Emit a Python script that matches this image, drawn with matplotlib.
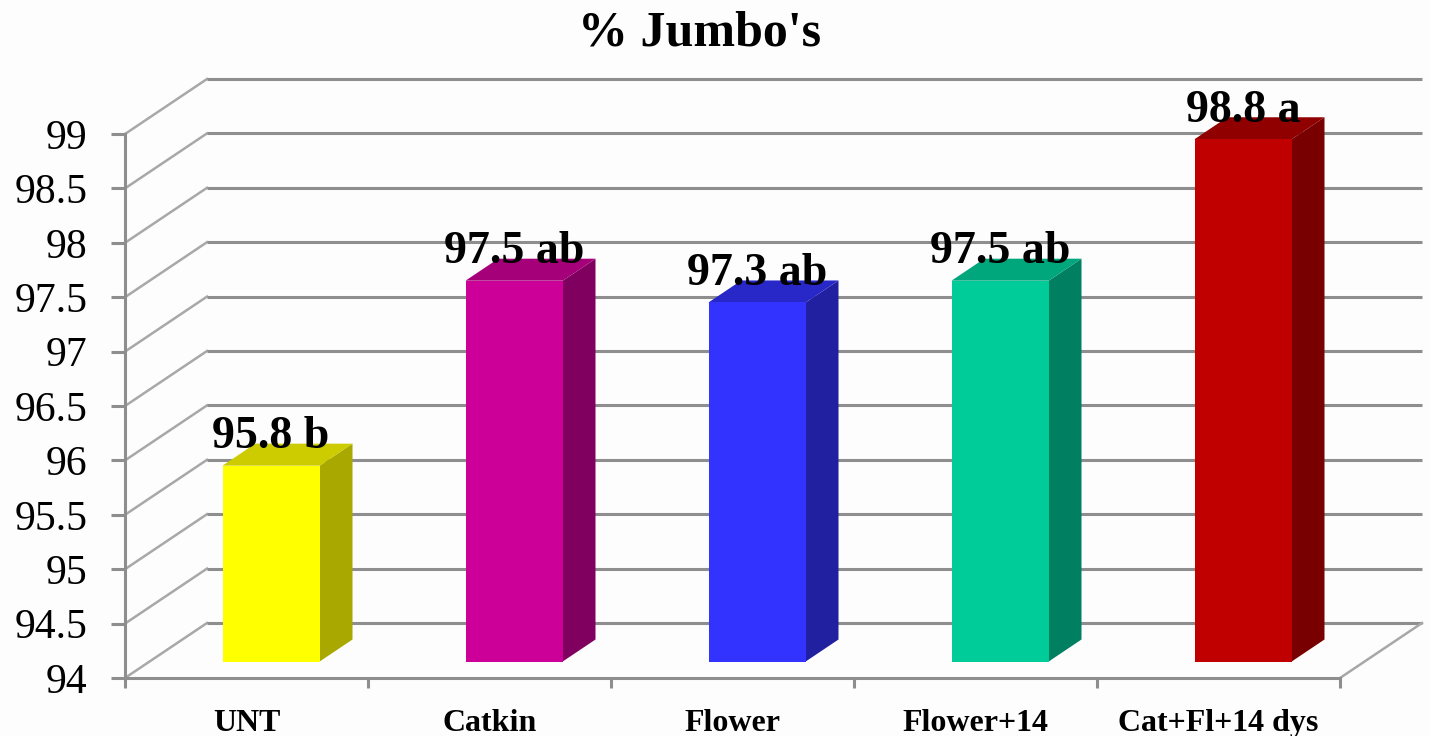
import matplotlib
matplotlib.use("Agg")
import matplotlib.pyplot as plt
import numpy as np

categories = ["UNT", "Catkin", "Flower", "Flower+14", "Cat+Fl+14 dys"]
values = [95.8, 97.5, 97.3, 97.5, 98.8]
letters = ["b", "ab", "ab", "ab", "a"]
y_ticks = [94, 94.5, 95, 95.5, 96, 96.5, 97, 97.5, 98, 98.5, 99]
y_labels = ["94", "94.5", "95", "95.5", "96", "96.5", "97", "97.5", "98", "98.5", "99"]
front_colors = ["#FFFF00", "#CC0099", "#3333FF", "#00CC99", "#C00000"]
side_colors = ["#A8A800", "#800060", "#2020A0", "#008060", "#780000"]
top_colors = ["#CCCC00", "#A5007A", "#2828C8", "#00A67C", "#900000"]

# depth of the fake 3d box, in data units
depth_x = 82 / 243
depth_y = 55 / 108.8
bar_width = 0.4
bar_front = 0.30
bar_back = 0.70
grid_color = "#8E8E8E"
serif = "Liberation Serif"

fig = plt.figure(figsize=(14.3, 7.36), dpi=100, facecolor="#FDFDFD")
ax = fig.add_axes([125 / 1430, (736 - 678) / 736, 1215 / 1430, 544 / 736])
ax.set_facecolor("none")
ax.set_xlim(0, 5)
ax.set_ylim(94, 99)

# back wall and floor lines
for v in y_ticks:
    ax.plot([0, depth_x], [v, v + depth_y], color="#A8A8A8", lw=1.8, clip_on=False, zorder=1)
    ax.plot([depth_x, 5 + depth_x], [v + depth_y, v + depth_y], color=grid_color, lw=2.2,
            clip_on=False, zorder=1, solid_capstyle="butt")
ax.plot([5, 5 + depth_x], [94, 94 + depth_y], color="#A8A8A8", lw=1.8, clip_on=False, zorder=1)

for i, v in enumerate(values):
    left = i + 0.5 - bar_width / 2 + bar_front * depth_x
    right = left + bar_width
    base = 94 + bar_front * depth_y
    top = v + bar_front * depth_y
    off_x = (bar_back - bar_front) * depth_x
    off_y = (bar_back - bar_front) * depth_y
    ax.bar(left, top - base, bar_width, bottom=base, align="edge", color=front_colors[i],
           clip_on=False, zorder=3)
    ax.fill([right, right + off_x, right + off_x, right],
            [base, base + off_y, top + off_y, top], color=side_colors[i], lw=0,
            clip_on=False, zorder=2)
    ax.fill([left, left + off_x, right + off_x, right],
            [top, top + off_y, top + off_y, top], color=top_colors[i], lw=0,
            clip_on=False, zorder=2)
    ax.annotate(f"{v} {letters[i]}", xy=(left + bar_width / 2, top), xytext=(0, 12.5),
                textcoords="offset points", ha="center", va="baseline", family=serif,
                fontsize=33, fontweight="bold", color="black", zorder=5, annotation_clip=False)

for side in ["top", "right"]:
    ax.spines[side].set_visible(False)
for side in ["left", "bottom"]:
    ax.spines[side].set_color(grid_color)
    ax.spines[side].set_linewidth(2.2)

ax.set_yticks(y_ticks)
ax.set_yticklabels(y_labels, family=serif, fontsize=30)
ax.tick_params(axis="y", length=10, width=2.2, color=grid_color, pad=17)

ax.set_xticks(np.arange(0, 6))
ax.set_xticklabels([])
ax.tick_params(axis="x", which="major", length=7, width=2.2, color=grid_color)
ax.set_xticks(np.arange(5) + 0.5, minor=True)
ax.set_xticklabels(categories, minor=True, family=serif, fontsize=23, fontweight="bold")
ax.tick_params(axis="x", which="minor", length=0, pad=22)

fig.text(700 / 1430, 1 - 46 / 736, "% Jumbo's", ha="center", va="baseline", family=serif,
         fontsize=36, fontweight="bold", color="black")

fig.savefig("out.png", dpi=100, facecolor=fig.get_facecolor())
